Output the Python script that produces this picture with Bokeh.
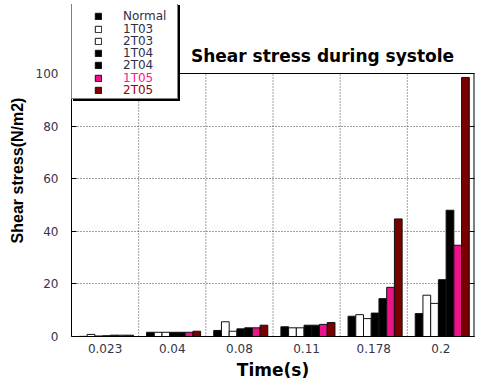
import math
from bokeh.plotting import figure
from bokeh.models import (ColumnDataSource, Legend, LegendItem, Label, Span,
                          LinearAxis, FixedTicker, Range1d)
from bokeh.transform import dodge
from bokeh.embed import file_html
from bokeh.resources import INLINE

# ---- data ----
times = ["0.023", "0.04", "0.08", "0.11", "0.178", "0.2"]
series_names = ["Normal", "1T03", "2T03", "1T04", "2T04", "1T05", "2T05"]
normal = [0.05, 1.6, 2.3, 3.7, 7.7, 8.7]
t1t03 = [0.8, 1.6, 5.6, 3.3, 8.3, 15.7]
t2t03 = [0.2, 1.6, 2.0, 3.3, 6.8, 12.6]
t1t04 = [0.3, 1.6, 2.9, 4.3, 8.9, 21.6]
t2t04 = [0.5, 1.6, 3.3, 4.3, 14.4, 48.0]
t1t05 = [0.5, 1.6, 3.3, 4.6, 18.7, 34.7]
t2t05 = [0.5, 2.0, 4.3, 5.3, 44.7, 98.5]
y_ticks = [0, 20, 40, 60, 80, 100]
y_max = 100
group_edges = [1, 2, 3, 4, 5]

series_values = [normal, t1t03, t2t03, t1t04, t2t04, t1t05, t2t05]
fills = ["black", "white", "white", "black", "black", "#ee1289", "#7a0000"]
label_colors = ["#2e2e48"] * 5 + ["#ff1493", "#990000"]

source = ColumnDataSource(dict(time=times, **{n: v for n, v in zip(series_names, series_values)}))

# frame: x 71..474, y 4..336 ; value 100 sits at y=73
top_px, zero_px, hundred_px = 4, 336, 73
y_end = y_max + (hundred_px - top_px) * y_max / (zero_px - hundred_px)

p = figure(width=481, height=382, x_range=times, y_range=Range1d(0, y_end),
           output_backend="svg", toolbar_location=None,
           min_border_left=71, min_border_right=7, min_border_top=top_px, min_border_bottom=46)
p.x_range.range_padding = 0
p.outline_line_color = None
p.background_fill_color = "white"
p.border_fill_color = "white"

TICK_COLOR = "#34344a"
GRID_COLOR = "#444444"

# grid
p.xgrid.visible = False
p.ygrid.ticker = FixedTicker(ticks=[20, 40, 60, 80])
p.ygrid.grid_line_color = GRID_COLOR
p.ygrid.grid_line_dash = "1 2"
p.ygrid.grid_line_width = 1
vg = p.segment(x0=group_edges, y0=[0] * 5, x1=group_edges, y1=[y_max] * 5,
               line_color=GRID_COLOR, line_dash="1 2", line_width=1)
vg.level = "underlay"

# plot frame pieces: top line at 100 and right edge
p.add_layout(Span(location=y_max, dimension="width", line_color="black", line_width=1))
re = p.segment(x0=[len(times)], y0=[0], x1=[len(times)], y1=[y_max],
               line_color="black", line_width=2)

# axes
p.yaxis.ticker = FixedTicker(ticks=y_ticks)
p.yaxis.major_tick_in = 5
p.yaxis.major_tick_out = 0
p.yaxis.minor_tick_line_color = None
p.yaxis.major_label_standoff = 13
p.yaxis.major_label_text_font = "DejaVu Sans"
p.yaxis.major_label_text_font_size = "12px"
p.yaxis.major_label_text_color = TICK_COLOR
p.yaxis.axis_line_color = "black"
p.yaxis.axis_label = "Shear stress(N/m2)"
p.yaxis.axis_label_text_font = "Liberation Sans"
p.yaxis.axis_label_text_font_style = "bold"
p.yaxis.axis_label_text_font_size = "16px"
p.yaxis.axis_label_text_color = "black"
p.yaxis.axis_label_standoff = 7

p.xaxis.major_tick_in = 0
p.xaxis.major_tick_out = 0
p.xaxis.major_label_standoff = 7
p.xaxis.major_label_text_font = "DejaVu Sans"
p.xaxis.major_label_text_font_size = "12px"
p.xaxis.major_label_text_color = TICK_COLOR
p.xaxis.axis_line_color = "black"
p.xaxis.axis_label = "Time(s)"
p.xaxis.axis_label_text_font = "DejaVu Sans"
p.xaxis.axis_label_text_font_style = "bold"
p.xaxis.axis_label_text_font_size = "17px"
p.xaxis.axis_label_text_color = "black"
p.xaxis.axis_label_standoff = 4

raxis = LinearAxis(ticker=FixedTicker(ticks=y_ticks))
raxis.major_tick_in = 5
raxis.major_tick_out = 0
raxis.minor_tick_line_color = None
raxis.major_label_text_font_size = "0px"
raxis.major_label_standoff = 0
raxis.axis_line_color = None
p.add_layout(raxis, "right")

# bars
bw = 0.115
shift = 0.02
renderers = []
for k, (name, col) in enumerate(zip(series_names, fills)):
    r = p.vbar(x=dodge("time", (k - 3) * bw + shift, range=p.x_range), top=name,
               width=bw, source=source, fill_color=col, line_color="#111111", line_width=1)
    renderers.append(r)

# legend frame (shadow + box) built from an invisible renderer
dummy = p.vbar(x=[], top=[], width=0.1, fill_alpha=0, line_alpha=0)

def box_legend(loc, bg):
    return Legend(items=[LegendItem(label="x", renderers=[dummy])],
                  location=loc, padding=4, spacing=0, margin=0,
                  glyph_width=8, glyph_height=8, label_height=86, label_width=84,
                  label_standoff=5, label_text_alpha=0, label_text_font="DejaVu Sans",
                  label_text_font_size="12px",
                  border_line_color="black", border_line_width=1,
                  background_fill_color=bg, background_fill_alpha=1)

p.add_layout(box_legend((2, 235), "black"))
p.add_layout(box_legend((0, 237), "white"))

# one legend per entry so each label keeps its own colour and row position
row_centers = [16, 29, 41, 53, 65, 78, 90]
for i, name in enumerate(series_names):
    p.add_layout(Legend(items=[LegendItem(label=name, renderers=[renderers[i]])],
                        location=(23, zero_px - 7 - row_centers[i]),
                        padding=0, spacing=0, margin=0,
                        glyph_width=8, glyph_height=8, label_height=12,
                        label_standoff=21, label_text_font="DejaVu Sans",
                        label_text_font_size="12px", label_text_color=label_colors[i],
                        border_line_alpha=0, background_fill_alpha=0))

# title
p.add_layout(Label(x=251, y=281, x_units="screen", y_units="screen",
                   text="Shear stress during systole", text_align="center",
                   text_baseline="middle", text_font="DejaVu Sans",
                   text_font_style="bold", text_font_size="17px", text_color="black"))

open("out.html", "w").write(file_html(p, INLINE))
